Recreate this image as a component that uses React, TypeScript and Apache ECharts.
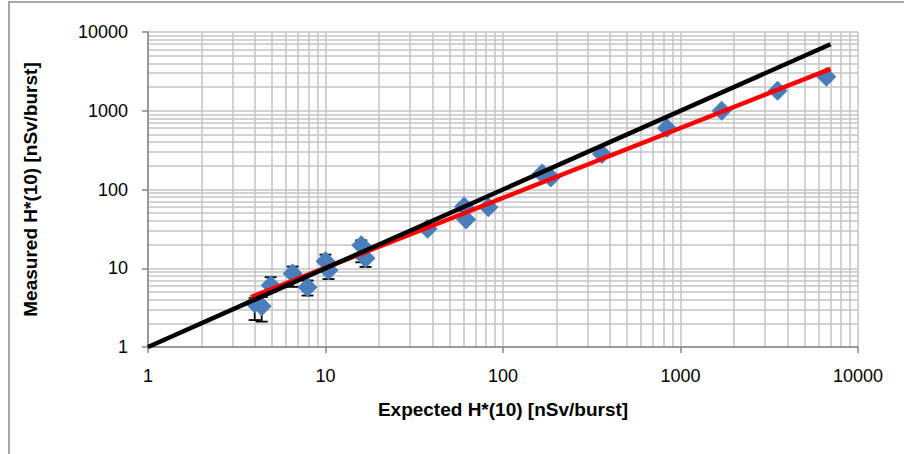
import React, { useEffect, useRef } from "react";
import * as echarts from "echarts";

const expected = [3.99, 4.37, 4.91, 6.53, 7.92, 10.0, 10.4, 15.9, 16.8, 37.6, 60.4, 62, 82.7, 166, 186, 361, 838, 1707, 3522, 6637];
const measured = [3.6, 3.3, 6.1, 8.6, 5.75, 12.3, 9.4, 19.6, 13.4, 31.8, 61, 41.7, 59.7, 160, 142, 283, 604, 1000, 1791, 2693];
const errLow: (number | null)[] = [2.2, 2.1, 5.0, 5.8, 4.5, 9.8, 7.3, 11.9, 10.4, null, null, null, null, null, null, null, null, null, null, null];
const errHigh: (number | null)[] = [4.2, 4.3, 7.7, 10.5, 7.0, 14.9, 11.5, 22.6, 16.5, null, null, null, null, null, null, null, null, null, null, null];

const identityLine = [[1, 1], [7000, 7000]];
const fitLine = [[3.8, 4.3], [7000, 3400]];

const decades = [1, 10, 100, 1000];
const minorMultipliers = [2, 3, 4, 5, 6, 7, 8, 9];

const xAxisName = "Expected H*(10) [nSv/burst]";
const yAxisName = "Measured H*(10) [nSv/burst]";

export default function App() {
  const ref = useRef<HTMLDivElement>(null);
  useEffect(() => {
    if (!ref.current) return;
    const chart = echarts.init(ref.current, undefined, { renderer: "svg" });
    const minorVals: number[] = [];
    decades.forEach((d) => minorMultipliers.forEach((m) => minorVals.push(d * m)));
    const gridMarks = [
      ...minorVals.map((v) => ({ xAxis: v })),
      ...minorVals.map((v) => ({ yAxis: v })),
    ];
    const errData = expected
      .map((x, i) => (errLow[i] != null ? [x, errLow[i], errHigh[i]] : null))
      .filter((d) => d != null);
    const font = "'Liberation Sans', Arial, sans-serif";
    const fmt = (v: number) => String(Math.round(v));
    chart.setOption({
      animation: false,
      backgroundColor: "#ffffff",
      graphic: [
        {
          type: "rect",
          shape: { x: 9, y: 2, width: 920, height: 480 },
          style: { fill: "none", stroke: "#8c8c8c", lineWidth: 1.5 },
          silent: true,
          z: -10,
        },
      ],
      grid: { left: 148, right: 46, top: 32, bottom: 107 },
      xAxis: {
        type: "log",
        logBase: 10,
        min: 1,
        max: 10000,
        name: xAxisName,
        nameLocation: "middle",
        nameGap: 53,
        nameTextStyle: { fontFamily: font, fontSize: 19, fontWeight: "bold", color: "#000" },
        axisLine: { lineStyle: { color: "#868686", width: 1.5 } },
        axisTick: { show: true, length: 6, lineStyle: { color: "#868686", width: 1.5 } },
        axisLabel: { fontFamily: font, fontSize: 18, color: "#000", margin: 20, formatter: fmt },
        splitLine: { show: true, lineStyle: { color: "#c4c4c4", width: 1.5 } },
        minorTick: { show: false },
        minorSplitLine: { show: false },
      },
      yAxis: {
        type: "log",
        logBase: 10,
        min: 1,
        max: 10000,
        name: yAxisName,
        nameLocation: "middle",
        nameRotate: 90,
        nameGap: 108,
        nameTextStyle: { fontFamily: font, fontSize: 19, fontWeight: "bold", color: "#000" },
        axisLine: { show: true, lineStyle: { color: "#868686", width: 1.5 } },
        axisTick: { show: true, length: 6, lineStyle: { color: "#868686", width: 1.5 } },
        axisLabel: { fontFamily: font, fontSize: 18, color: "#000", margin: 20, formatter: fmt },
        splitLine: { show: true, lineStyle: { color: "#c4c4c4", width: 1.5 } },
      },
      series: [
        {
          type: "line",
          name: "grid",
          data: [],
          silent: true,
          z: 0,
          markLine: {
            silent: true,
            symbol: "none",
            animation: false,
            z: 0,
            zlevel: 0,
            label: { show: false },
            lineStyle: { color: "#c4c4c4", width: 1.5, type: "solid" },
            emphasis: { disabled: true },
            data: gridMarks,
          },
        },
        {
          type: "custom",
          name: "error",
          data: errData,
          z: 2,
          renderItem: (params: any, api: any) => {
            const x = api.value(0);
            const lo = api.coord([x, api.value(1)]);
            const hi = api.coord([x, api.value(2)]);
            const w = 6;
            const st = { stroke: "#000", lineWidth: 1.8 };
            return {
              type: "group",
              children: [
                { type: "line", shape: { x1: lo[0], y1: lo[1], x2: hi[0], y2: hi[1] }, style: st },
                { type: "line", shape: { x1: lo[0] - w, y1: lo[1], x2: lo[0] + w, y2: lo[1] }, style: st },
                { type: "line", shape: { x1: hi[0] - w, y1: hi[1], x2: hi[0] + w, y2: hi[1] }, style: st },
              ],
            };
          },
        },
        {
          type: "scatter",
          name: "measured",
          data: expected.map((x, i) => [x, measured[i]]),
          symbol: "diamond",
          symbolSize: [20, 20],
          itemStyle: { color: "#4a7ebb", opacity: 1 },
          z: 3,
        },
        {
          type: "line",
          name: "fit",
          data: fitLine,
          showSymbol: false,
          symbol: "none",
          lineStyle: { color: "#ff0000", width: 4.5 },
          z: 4,
        },
        {
          type: "line",
          name: "identity",
          data: identityLine,
          showSymbol: false,
          symbol: "none",
          lineStyle: { color: "#000000", width: 4.5 },
          z: 5,
        },
      ],
    });
    return () => chart.dispose();
  }, []);
  return <div ref={ref} style={{ position: "absolute", left: 0, top: 0, width: 904, height: 454 }} />;
}
